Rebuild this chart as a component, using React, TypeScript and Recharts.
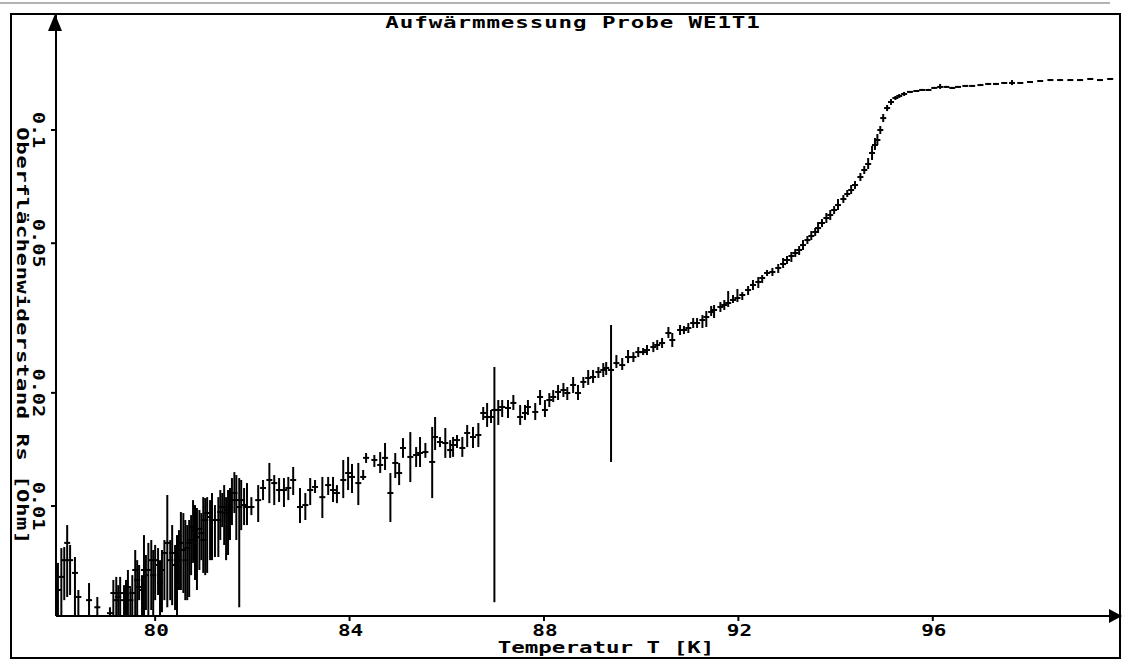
import {
  ScatterChart,
  Scatter,
  XAxis,
  YAxis,
  ErrorBar,
} from "recharts";

// Aufwärmmessung WE1T1: temperature [K], surface resistance Rs [Ohm] and its error range
const temps = [
  78.00, 78.07, 78.13, 78.19, 78.25, 78.35, 78.42, 78.64, 78.81, 79.07,
  79.14, 79.20, 79.28, 79.36, 79.44, 79.53, 79.59, 79.67, 79.77, 79.86,
  79.92, 80.00, 80.10, 80.19, 80.25, 80.35, 80.45, 80.53, 80.62, 80.70,
  80.78, 80.86, 80.95, 81.03, 81.13, 81.23, 81.38, 81.46, 81.54, 81.63,
  81.67, 81.73, 81.77, 81.89, 81.98, 82.12, 82.22, 82.35, 82.45, 82.55,
  82.65, 82.74, 82.84, 82.98, 83.09, 83.19, 83.29, 83.44, 83.56, 83.66,
  83.74, 83.87, 83.97, 84.05, 84.18, 84.28, 84.34, 84.51, 84.63, 84.73,
  84.84, 84.94, 85.02, 85.10, 85.25, 85.37, 85.45, 85.56, 85.70, 85.76,
  85.86, 85.97, 86.07, 86.13, 86.21, 86.32, 86.42, 86.54, 86.65, 86.75,
  86.83, 86.91, 86.98, 87.06, 87.14, 87.26, 87.37, 87.51, 87.61, 87.67,
  87.82, 87.92, 88.02, 88.11, 88.19, 88.29, 88.40, 88.48, 88.60, 88.70,
  88.81, 88.91, 89.01, 89.12, 89.22, 89.28, 89.38, 89.49, 89.61, 89.73,
  89.84, 89.94, 90.04, 90.12, 90.25, 90.33, 90.43, 90.56, 90.64, 90.80,
  90.88, 90.97, 91.07, 91.15, 91.26, 91.34, 91.44, 91.50, 91.63, 91.71,
  91.79, 91.89, 91.98, 92.08, 92.20, 92.30, 92.41, 92.49, 92.59, 92.70,
  92.82, 92.92, 93.00, 93.09, 93.17, 93.25, 93.33, 93.42, 93.50, 93.58,
  93.64, 93.72, 93.81, 93.89, 93.97, 94.05, 94.16, 94.24, 94.32, 94.40,
  94.51, 94.59, 94.67, 94.75, 94.81, 94.86, 94.92, 94.98, 95.06, 95.14,
  95.23, 95.31, 95.41, 95.53, 95.66, 95.78, 95.91, 96.03, 96.15, 96.28,
  96.40, 96.52, 96.67, 96.81, 96.98, 97.14, 97.30, 97.47, 97.63, 97.80,
  98.00, 98.21, 98.42, 98.62, 98.83, 99.03, 99.24, 99.44, 99.65,
];

const rsOhm = [
  0.00598, 0.00648, 0.00718, 0.00798, 0.00718, 0.00664, 0.00573, 0.00562, 0.00538, 0.00519,
  0.00587, 0.00562, 0.00587, 0.00562, 0.00609, 0.00587, 0.00676, 0.00609, 0.00676, 0.00676,
  0.00718, 0.00718, 0.00624, 0.0075, 0.00798, 0.0075, 0.00718, 0.00798, 0.00718, 0.00798,
  0.00879, 0.00827, 0.00847, 0.00918, 0.00935, 0.00918, 0.00994, 0.00958, 0.00994, 0.01083,
  0.01037, 0.00994, 0.01037, 0.00994, 0.00994, 0.01037, 0.01117, 0.01173, 0.01151, 0.01103,
  0.01103, 0.01117, 0.01173, 0.00994, 0.01006, 0.01103, 0.01124, 0.01056, 0.01137, 0.01103,
  0.01083, 0.01173, 0.01224, 0.01195, 0.01151, 0.01195, 0.01343, 0.01326, 0.01286, 0.01343,
  0.01083, 0.01302, 0.01224, 0.01427, 0.01351, 0.01367, 0.01384, 0.01392, 0.0131, 0.01526,
  0.0148, 0.01471, 0.01409, 0.01453, 0.01498, 0.01427, 0.01564, 0.01526, 0.01545, 0.01768,
  0.01725, 0.01725, 0.01801, 0.01801, 0.01834, 0.01823, 0.0188, 0.01725, 0.01768, 0.01834,
  0.01779, 0.0195, 0.01801, 0.01914, 0.0195, 0.02011, 0.02035, 0.01998, 0.02099, 0.01998,
  0.02138, 0.02191, 0.02204, 0.02272, 0.02301, 0.02329, 0.02301, 0.024, 0.02371, 0.0249,
  0.0249, 0.02567, 0.02567, 0.026, 0.02648, 0.02681, 0.02714, 0.02885, 0.02764, 0.02939,
  0.02939, 0.02975, 0.03067, 0.03067, 0.03124, 0.03182, 0.03282, 0.03322, 0.03384, 0.03425,
  0.03467, 0.03532, 0.03575, 0.03641, 0.03755, 0.03872, 0.03944, 0.04041, 0.04167, 0.04193,
  0.04297, 0.04403, 0.04512, 0.04624, 0.0471, 0.04798, 0.04944, 0.05098, 0.05225, 0.05355,
  0.05487, 0.05659, 0.05834, 0.05942, 0.06127, 0.06317, 0.06554, 0.06758, 0.06925, 0.07141,
  0.07499, 0.07828, 0.08121, 0.08689, 0.09123, 0.09407, 0.1, 0.1076, 0.1144, 0.1187,
  0.1217, 0.1232, 0.1247, 0.1263, 0.127, 0.1278, 0.1278, 0.1294, 0.1302, 0.1302,
  0.1294, 0.1302, 0.131, 0.131, 0.1317, 0.1326, 0.1326, 0.1334, 0.1334, 0.1334,
  0.1342, 0.135, 0.1358, 0.1358, 0.1358, 0.1358, 0.1367, 0.1358, 0.1367,
];

const rsLow = [
  0.0051, 0.0051, 0.00562, 0.00573, 0.0058, 0.0051, 0.0051, 0.0051, 0.0051, 0.0051,
  0.0051, 0.0051, 0.0051, 0.0051, 0.0051, 0.0051, 0.0051, 0.00562, 0.0051, 0.0051,
  0.00529, 0.00562, 0.0051, 0.00562, 0.00538, 0.00545, 0.0051, 0.00598, 0.00562, 0.00573,
  0.00706, 0.00598, 0.00718, 0.00655, 0.00718, 0.00732, 0.00879, 0.00718, 0.00812, 0.00958,
  0.00812, 0.00538, 0.00863, 0.0089, 0.00946, 0.00907, 0.01037, 0.01018, 0.01006, 0.01025,
  0.00994, 0.01037, 0.0107, 0.00901, 0.00918, 0.01006, 0.01083, 0.00929, 0.0107, 0.01025,
  0.01018, 0.0105, 0.01103, 0.01083, 0.01006, 0.01173, 0.01302, 0.0127, 0.01224, 0.01247,
  0.00907, 0.01187, 0.01137, 0.01343, 0.01158, 0.0127, 0.0127, 0.01343, 0.0105, 0.01409,
  0.01435, 0.01343, 0.01343, 0.01351, 0.01427, 0.01351, 0.01435, 0.01427, 0.01435, 0.01694,
  0.01623, 0.01663, 0.00555, 0.01643, 0.01725, 0.01715, 0.01801, 0.01643, 0.01694, 0.01746,
  0.01694, 0.01857, 0.01725, 0.01834, 0.01891, 0.01914, 0.0195, 0.01914, 0.01998, 0.01914,
  0.0206, 0.02099, 0.02125, 0.02191, 0.02204, 0.02231, 0.0131, 0.02329, 0.02301, 0.024,
  0.02415, 0.0249, 0.02521, 0.02521, 0.02567, 0.026, 0.02632, 0.02798, 0.02648, 0.0285,
  0.02867, 0.02885, 0.02975, 0.02975, 0.02975, 0.02993, 0.03201, 0.03162, 0.03282, 0.03322,
  0.03384, 0.03467, 0.03489, 0.03532, 0.03641, 0.03755, 0.03801, 0.0392, 0.04091, 0.04091,
  0.04167, 0.04297, 0.04403, 0.04457, 0.04596, 0.04653, 0.04798, 0.04975, 0.05098, 0.05225,
  0.05322, 0.05521, 0.05659, 0.05762, 0.05979, 0.06127, 0.06395, 0.06635, 0.06758, 0.06967,
  0.07318, 0.07638, 0.07876, 0.08322, 0.08848, 0.09123, 0.09759, 0.105, 0.1123, 0.1166,
  0.1202, 0.1217, 0.1232, 0.1255, 0.1263, 0.127, 0.127, 0.1286, 0.1286, 0.1294,
  0.1286, 0.1294, 0.1302, 0.1302, 0.131, 0.1317, 0.1317, 0.1326, 0.1317, 0.1326,
  0.1334, 0.1342, 0.135, 0.135, 0.135, 0.135, 0.1358, 0.135, 0.1358,
];

const rsHigh = [
  0.00706, 0.00773, 0.00778, 0.0089, 0.00788, 0.00732, 0.00598, 0.00624, 0.00573, 0.00538,
  0.00636, 0.00648, 0.00648, 0.00616, 0.00676, 0.00655, 0.00764, 0.00697, 0.00837, 0.00798,
  0.00812, 0.00788, 0.00718, 0.00812, 0.0107, 0.0089, 0.00837, 0.00964, 0.00918, 0.00918,
  0.01037, 0.00988, 0.00958, 0.0105, 0.01037, 0.01006, 0.01083, 0.01056, 0.01117, 0.01231,
  0.01209, 0.01187, 0.01173, 0.01151, 0.01056, 0.01137, 0.01173, 0.01302, 0.01209, 0.01187,
  0.01187, 0.01195, 0.0127, 0.01117, 0.01083, 0.01187, 0.01173, 0.01195, 0.01195, 0.01195,
  0.01137, 0.01326, 0.01351, 0.01294, 0.01302, 0.01247, 0.01384, 0.01367, 0.01392, 0.01471,
  0.01224, 0.01384, 0.01302, 0.01516, 0.01573, 0.01435, 0.01526, 0.01471, 0.01623, 0.01725,
  0.01526, 0.01613, 0.01498, 0.01526, 0.01545, 0.01526, 0.01643, 0.01623, 0.01663, 0.01834,
  0.0188, 0.01801, 0.02343, 0.01914, 0.01914, 0.01914, 0.01974, 0.01857, 0.01857, 0.01914,
  0.0188, 0.02035, 0.01914, 0.01998, 0.02035, 0.02099, 0.02125, 0.02073, 0.02204, 0.02099,
  0.02204, 0.02301, 0.02301, 0.02343, 0.024, 0.02415, 0.0303, 0.02521, 0.02475, 0.026,
  0.02567, 0.02648, 0.02632, 0.02681, 0.02731, 0.02764, 0.02798, 0.02993, 0.02885, 0.0303,
  0.03012, 0.03067, 0.03162, 0.03162, 0.03221, 0.03302, 0.03405, 0.03425, 0.03489, 0.03532,
  0.03731, 0.03641, 0.03778, 0.03708, 0.03848, 0.03992, 0.04066, 0.04116, 0.04244, 0.04297,
  0.04403, 0.04568, 0.04624, 0.04739, 0.04827, 0.04914, 0.05098, 0.05225, 0.05387, 0.05487,
  0.05693, 0.05798, 0.06015, 0.06127, 0.06278, 0.06554, 0.06716, 0.06925, 0.07141, 0.07318,
  0.07685, 0.08022, 0.08425, 0.09068, 0.09523, 0.09759, 0.1025, 0.1103, 0.1166, 0.1209,
  0.1232, 0.1247, 0.1263, 0.127, 0.1278, 0.1286, 0.1286, 0.1302, 0.1326, 0.131,
  0.1302, 0.131, 0.1317, 0.1317, 0.1326, 0.1334, 0.1334, 0.1342, 0.1358, 0.1342,
  0.135, 0.1358, 0.1367, 0.1367, 0.1367, 0.1367, 0.1375, 0.1367, 0.1375,
];

// extra readings in the dense, noisy band 79.2 K .. 81.9 K
const denseTemps = [
  79.24, 79.40, 79.49, 79.63, 79.73, 79.81, 79.96, 80.06, 80.14, 80.31,
  80.41, 80.49, 80.58, 80.66, 80.74, 80.82, 80.91, 80.99, 81.07, 81.17,
  81.30, 81.34, 81.42, 81.50, 81.58, 81.83,
];
const denseRs = [
  0.00573, 0.0058, 0.00562, 0.00636, 0.00598, 0.00655, 0.00655, 0.00697, 0.00676, 0.00718,
  0.00697, 0.00764, 0.00764, 0.00773, 0.00812, 0.00863, 0.00869, 0.00812, 0.00958, 0.00918,
  0.00918, 0.00964, 0.00994, 0.00976, 0.01037, 0.01006,
];
const denseLow = [
  0.0051, 0.0051, 0.0051, 0.0051, 0.0051, 0.00529, 0.0051, 0.0058, 0.00522, 0.00562,
  0.00529, 0.00598, 0.00587, 0.00562, 0.00655, 0.00636, 0.00676, 0.00664, 0.00664, 0.00718,
  0.00732, 0.00812, 0.00788, 0.00741, 0.0089, 0.0089,
];
const denseHigh = [
  0.00616, 0.00636, 0.00605, 0.00718, 0.00655, 0.00741, 0.00764, 0.00773, 0.00764, 0.00812,
  0.00788, 0.00863, 0.00958, 0.0089, 0.00946, 0.01006, 0.00976, 0.01056, 0.01056, 0.01083,
  0.01056, 0.01103, 0.01137, 0.01103, 0.01187, 0.01117,
];

const xTicks = [80, 84, 88, 92, 96];
const yTicks = [0.01, 0.02, 0.05, 0.1];

const TITLE = "Aufwärmmessung Probe WE1T1";
const X_LABEL = "Temperatur T [K]";
const Y_LABEL = "Oberflächenwiderstand Rs [Ohm]";

const FONT = "'DejaVu Sans Mono', 'Liberation Mono', monospace";

const toRows = (ts: number[], rs: number[], lo: number[], hi: number[]) =>
  ts.map((t, i) => ({
    t,
    r: rs[i],
    err: [Math.max(0, rs[i] - lo[i]), Math.max(0, hi[i] - rs[i])],
  }));

const data = [
  ...toRows(temps, rsOhm, rsLow, rsHigh),
  ...toRows(denseTemps, denseRs, denseLow, denseHigh),
];

function Dash(props: any) {
  const { cx, cy } = props;
  if (cx == null || cy == null) return null;
  return <rect x={cx - 3} y={cy - 1} width={6} height={2} fill="#000" />;
}

function XTick(props: any) {
  const { x, y, payload } = props;
  return (
    <text
      transform={`translate(${x + 1}, ${y + 13}) scale(1.4, 1)`}
      textAnchor="middle"
      fontFamily={FONT}
      fontWeight="bold"
      fontSize={15}
      fill="#000"
    >
      {payload.value}
    </text>
  );
}

function YTick(props: any) {
  const { y, payload } = props;
  return (
    <text
      transform={`translate(38, ${y}) rotate(90) scale(1.35, 1)`}
      textAnchor="middle"
      dominantBaseline="central"
      fontFamily={FONT}
      fontWeight="bold"
      fontSize={15}
      fill="#000"
    >
      {payload.value}
    </text>
  );
}

export default function App() {
  return (
    <div
      style={{
        position: "absolute",
        left: 0,
        top: 0,
        width: 1126,
        height: 662,
        background: "#fff",
      }}
    >
      <ScatterChart
        width={1126}
        height={662}
        margin={{ top: 14, right: 9, bottom: 0, left: 10 }}
      >
        <XAxis
          type="number"
          dataKey="t"
          domain={[77.96, 99.79]}
          allowDataOverflow
          ticks={xTicks}
          height={46}
          tick={<XTick />}
          tickSize={5}
          axisLine={{ stroke: "#000", strokeWidth: 2 }}
          tickLine={{ stroke: "#000", strokeWidth: 2 }}
        />
        <YAxis
          type="number"
          dataKey="r"
          scale="log"
          domain={[0.0051, 0.2035]}
          allowDataOverflow
          ticks={yTicks}
          width={46}
          tick={<YTick />}
          tickSize={5}
          axisLine={{ stroke: "#000", strokeWidth: 2 }}
          tickLine={{ stroke: "#000", strokeWidth: 2 }}
        />
        <Scatter
          data={data}
          fill="#000"
          shape={<Dash />}
          isAnimationActive={false}
        >
          <ErrorBar
            dataKey="err"
            direction="y"
            width={0}
            stroke="#000"
            strokeWidth={2}
            isAnimationActive={false}
          />
        </Scatter>
      </ScatterChart>

      <svg
        width={1126}
        height={662}
        style={{ position: "absolute", left: 0, top: 0, pointerEvents: "none" }}
      >
        <line x1={0} y1={3} x2={1110} y2={3} stroke="#666" strokeWidth={1} />
        <rect
          x={11}
          y={14}
          width={1109}
          height={644}
          fill="none"
          stroke="#000"
          strokeWidth={2}
        />
        <polygon points="55,14 48,31 62,31" fill="#000" />
        <polygon points="1122,616 1109,609 1109,623" fill="#000" />
        <text
          transform="translate(573, 28) scale(1.5, 1)"
          textAnchor="middle"
          fontFamily={FONT}
          fontWeight="bold"
          fontSize={15}
          fill="#000"
          style={{ letterSpacing: 0.6 }}
        >
          {TITLE}
        </text>
        <text
          transform="translate(606, 653) scale(1.5, 1)"
          textAnchor="middle"
          fontFamily={FONT}
          fontWeight="bold"
          fontSize={15}
          fill="#000"
        >
          {X_LABEL}
        </text>
        <text
          transform="translate(22, 336) rotate(90) scale(1.5, 1)"
          textAnchor="middle"
          dominantBaseline="central"
          fontFamily={FONT}
          fontWeight="bold"
          fontSize={15}
          fill="#000"
          style={{ letterSpacing: 0.25 }}
        >
          {Y_LABEL}
        </text>
      </svg>
    </div>
  );
}
